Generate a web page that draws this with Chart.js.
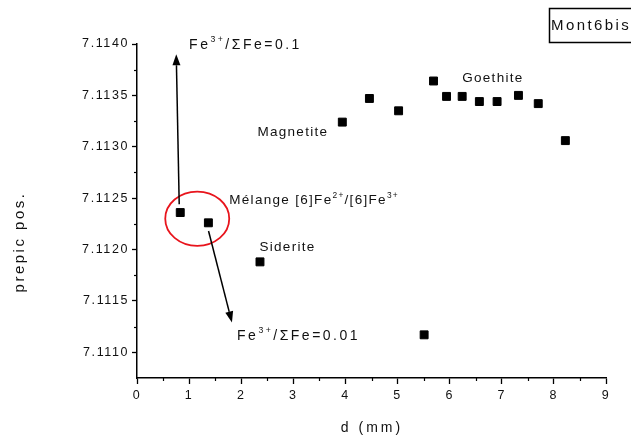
<!DOCTYPE html>
<html>
<head>
    <title>Mont6bis prepic position</title>
    <script src="https://cdn.jsdelivr.net/npm/chart.js"></script>
    <style>
        body { margin: 0; background: #fff; }
        #wrap { width: 631px; height: 435px; position: relative; }
    </style>
</head>
<body>
    <div id="wrap"><canvas id="myChart"></canvas></div>
    <script>
        // Data
        const distances = [0.83, 1.37, 2.36, 3.94, 4.46, 5.02, 5.51, 5.69, 5.94, 6.24, 6.57, 6.91, 7.32, 7.70, 8.22];
        const prepicPos = [7.11236, 7.11226, 7.11188, 7.11324, 7.11347, 7.11335, 7.11117, 7.11364, 7.11349, 7.11349, 7.11344, 7.11344, 7.11350, 7.11342, 7.11306];

        const xTicks = [0, 1, 2, 3, 4, 5, 6, 7, 8, 9];
        const xMinorTicks = [0.5, 1.5, 2.5, 3.5, 4.5, 5.5, 6.5, 7.5, 8.5];
        const yTicks = [7.1110, 7.1115, 7.1120, 7.1125, 7.1130, 7.1135, 7.1140];
        const yMinorTicks = [7.11125, 7.11175, 7.11225, 7.11275, 7.11325, 7.11375];

        // Annotations, in data units
        const labels = [
            { x: 2.31, y: 7.11310, parts: [['Magnetite']] },
            { x: 6.24, y: 7.11363, parts: [['Goethite']] },
            { x: 2.35, y: 7.11199, parts: [['Siderite']] },
            { x: 1.77, y: 7.11244, parts: [['Mélange [6]Fe'], ['2+', 1], ['/[6]Fe'], ['3+', 1]] },
        ];
        const ratioLabels = [
            { x: 1.00, y: 7.11395, parts: [['Fe'], ['3+', 1], ['/ΣFe=0.1']] },
            { x: 1.92, y: 7.11112, parts: [['Fe'], ['3+', 1], ['/ΣFe=0.01']] },
        ];
        const arrows = [
            { from: [0.81, 7.11244], to: [0.753, 7.11390] },
            { from: [1.373, 7.11218], to: [1.822, 7.11129] },
        ];
        const circle = { x: 1.156, y: 7.11230, rx: 0.614, ry: 0.000264 };

        const FONT = '"Liberation Sans", Arial, sans-serif';

        function drawRich(ctx, parts, x, y, size) {
            let cx = x;
            parts.forEach(([t, sup]) => {
                const s = sup ? size * 0.62 : size;
                ctx.font = s + 'px ' + FONT;
                ctx.fillText(t, cx, sup ? y - size * 0.5 : y);
                cx += ctx.measureText(t).width;
            });
        }

        const extras = {
            id: 'extras',
            beforeDraw(chart) {
                chart.ctx.letterSpacing = '1.6px';
            },
            afterDraw(chart) {
                const ctx = chart.ctx;
                const xs = chart.scales.x, ys = chart.scales.y;
                const a = chart.chartArea;
                ctx.save();
                ctx.strokeStyle = '#000';
                ctx.lineWidth = 1.2;

                // minor ticks
                xMinorTicks.forEach(v => {
                    const px = Math.round(xs.getPixelForValue(v)) + 0.5;
                    ctx.beginPath(); ctx.moveTo(px, a.bottom); ctx.lineTo(px, a.bottom + 3); ctx.stroke();
                });
                yMinorTicks.forEach(v => {
                    const py = Math.round(ys.getPixelForValue(v)) + 0.5;
                    ctx.beginPath(); ctx.moveTo(a.left - 3, py); ctx.lineTo(a.left, py); ctx.stroke();
                });

                ctx.fillStyle = '#111';
                ctx.textBaseline = 'alphabetic';
                ctx.textAlign = 'left';

                ctx.letterSpacing = '1.3px';
                labels.forEach(l => drawRich(ctx, l.parts, xs.getPixelForValue(l.x), ys.getPixelForValue(l.y), 13.5));
                ctx.letterSpacing = '2.5px';
                ratioLabels.forEach(l => drawRich(ctx, l.parts, xs.getPixelForValue(l.x), ys.getPixelForValue(l.y), 14));

                // red ellipse
                ctx.strokeStyle = '#e8141c';
                ctx.lineWidth = 1.8;
                const ecx = xs.getPixelForValue(circle.x), ecy = ys.getPixelForValue(circle.y);
                const erx = xs.getPixelForValue(circle.x + circle.rx) - ecx;
                const ery = ys.getPixelForValue(circle.y) - ys.getPixelForValue(circle.y + circle.ry);
                ctx.beginPath(); ctx.ellipse(ecx, ecy, erx, ery, 0, 0, Math.PI * 2); ctx.stroke();

                // arrows
                ctx.strokeStyle = '#000';
                ctx.fillStyle = '#000';
                ctx.lineWidth = 1.5;
                arrows.forEach(ar => {
                    const x1 = xs.getPixelForValue(ar.from[0]), y1 = ys.getPixelForValue(ar.from[1]);
                    const x2 = xs.getPixelForValue(ar.to[0]), y2 = ys.getPixelForValue(ar.to[1]);
                    const ang = Math.atan2(y2 - y1, x2 - x1);
                    const hl = 11, hw = 4;
                    const bx = x2 - hl * Math.cos(ang), by = y2 - hl * Math.sin(ang);
                    ctx.beginPath(); ctx.moveTo(x1, y1); ctx.lineTo(bx, by); ctx.stroke();
                    ctx.beginPath();
                    ctx.moveTo(x2, y2);
                    ctx.lineTo(bx + hw * Math.sin(ang), by - hw * Math.cos(ang));
                    ctx.lineTo(bx - hw * Math.sin(ang), by + hw * Math.cos(ang));
                    ctx.closePath(); ctx.fill();
                });

                // axis titles
                ctx.fillStyle = '#111';
                ctx.textAlign = 'center';
                ctx.letterSpacing = '3px';
                ctx.font = '14px ' + FONT;
                ctx.fillText('d (mm)', a.left + 235, 432);
                ctx.save();
                ctx.translate(20, a.top + 198);
                ctx.rotate(-Math.PI / 2);
                ctx.letterSpacing = '2.5px';
                ctx.font = '15px ' + FONT;
                ctx.textBaseline = 'middle';
                ctx.fillText('prepic pos.', 0, 0);
                ctx.restore();

                // legend box
                ctx.lineWidth = 1.5;
                ctx.strokeRect(549.5, 8.5, 90, 34);
                ctx.textAlign = 'left';
                ctx.textBaseline = 'middle';
                ctx.letterSpacing = '2.4px';
                ctx.font = '15px ' + FONT;
                ctx.fillText('Mont6bis', 551, 26);
                ctx.restore();
                ctx.letterSpacing = '0px';
            }
        };

        const ctx = document.getElementById('myChart').getContext('2d');
        const chart = new Chart(ctx, {
            type: 'scatter',
            data: {
                datasets: [{
                    label: 'Mont6bis',
                    data: distances.map((d, i) => ({ x: d, y: prepicPos[i] })),
                    pointStyle: 'rect',
                    pointRadius: 5.6,
                    pointHoverRadius: 5.6,
                    backgroundColor: '#000',
                    borderColor: '#000',
                    borderWidth: 1
                }]
            },
            options: {
                responsive: true,
                maintainAspectRatio: false,
                animation: false,
                events: [],
                layout: { padding: { left: 0, right: 25, top: 44, bottom: 0 } },
                plugins: { legend: { display: false }, tooltip: { enabled: false } },
                scales: {
                    x: {
                        type: 'linear',
                        min: 0,
                        max: 9,
                        afterBuildTicks: s => { s.ticks = xTicks.map(v => ({ value: v })); },
                        afterFit: s => { s.height = 57; },
                        border: { display: true, color: '#000', width: 1.5 },
                        grid: { drawOnChartArea: false, drawTicks: true, tickLength: 6, tickColor: '#000', tickWidth: 1.3 },
                        ticks: { color: '#111', padding: 4, font: { family: FONT, size: 12.5 }, maxRotation: 0 }
                    },
                    y: {
                        type: 'linear',
                        min: 7.11075,
                        max: 7.1140,
                        afterBuildTicks: s => { s.ticks = yTicks.map(v => ({ value: v })); },
                        afterFit: s => { s.width = 137; },
                        border: { display: true, color: '#000', width: 1.5 },
                        grid: { drawOnChartArea: false, drawTicks: true, tickLength: 5, tickColor: '#000', tickWidth: 1.3 },
                        ticks: { color: '#111', padding: 3, font: { family: FONT, size: 12.5 }, callback: v => v.toFixed(4) }
                    }
                }
            },
            plugins: [extras]
        });
    </script>
</body>
</html>
